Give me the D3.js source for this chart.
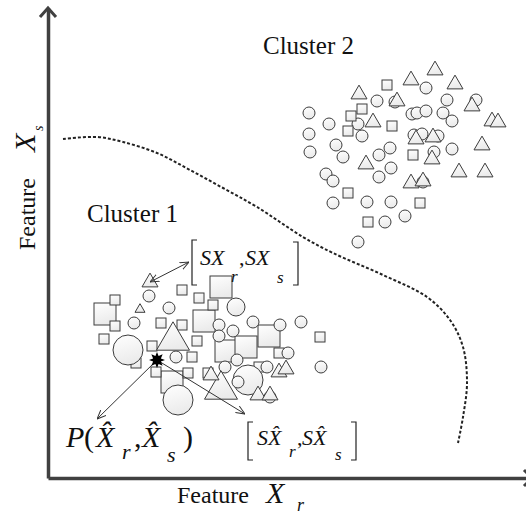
<!DOCTYPE html>
<html>
<head>
<meta charset="utf-8">
<script src="https://cdn.jsdelivr.net/npm/d3@7"></script>
<style>
	body { margin: 0; background: #fff; }
	svg { display: block; }
	text { font-family: "Liberation Serif", "Times New Roman", serif; fill: #111; }
</style>
</head>
<body>
<svg></svg>
<script>
// feature space units: [X_r, X_s, size class]
const cluster2Circles = [
	[378,390,1],[329,377,1],[347,376,1],[399,378,1],[428,378,1],[261,365,1],[364,364,1],[369,365,1],
	[378,367,1],[395,365,1],[404,357,1],[281,354,1],[310,354,1],[261,344,1],[314,342,1],[366,343,1],
	[374,344,1],[390,342,1],[288,333,1],[295,321,1],[262,326,1],[342,330,1],[331,323,1],[386,326,1],
	[404,329,1],[343,310,1],[331,301,1],[278,304,1],[285,297,1],[375,296,1],[285,275,1],[319,276,1],
	[343,276,1],[357,262,1],[337,256,1],[310,236,1]
];
const cluster2Squares = [
	[339,393,1],[314,369,1],[303,362,1],[300,347,1],[344,352,1],[365,323,1],[300,285,1],[372,275,1],[320,256,1]
];
const cluster2Triangles = [
	[387,410,1],[363,400,1],[407,396,1],[311,386,1],[349,379,1],[424,374,1],[444,359,1],[450,358,1],
	[325,358,1],[368,341,1],[385,343,1],[434,335,1],[384,321,1],[318,316,1],[411,308,1],[437,308,1],
	[363,297,1],[375,299,1]
];
const cluster1Circles = [
	[101,182,1],[121,170,1],[86,155,1],[80,128,3],[128,121,1],[130,78,3],[188,171,2],[171,153,1],
	[185,147,1],[205,156,1],[232,153,1],[253,156,1],[171,142,1],[240,125,1],[189,118,1],[177,111,1],
	[273,111,1],[200,98,3],[190,96,1],[222,81,1],[219,111,1]
];
const cluster1Squares = [
	[134,188,1],[151,180,1],[57,164,3],[67,178,1],[67,152,1],[113,155,1],[134,153,1],[56,139,1],
	[104,132,1],[149,137,1],[88,115,1],[144,121,1],[108,106,1],[124,96,3],[140,105,1],[173,191,3],
	[165,173,1],[156,157,3],[221,142,3],[272,141,1],[178,127,3],[198,131,3],[231,125,1],[211,111,1],[160,105,1]
];
const cluster1Triangles = [
	[102,198,1],[92,170,0],[125,142,3],[173,93,3],[231,108,1],[238,111,1],[163,105,1],[210,85,1],[222,85,1]
];
const queryPoint = [109,118];
const boundary = [
	[15,339],[49,341],[75,336],[109,325],[142,308],[175,290],[209,271],[255,241],[285,225],
	[335,203],[379,181],[402,158],[415,131],[419,95],[415,61],[410,35]
];
const arrows = [
	{from: [102,196], to: [141,216], both: true},
	{from: queryPoint, to: [49,59]},
	{from: queryPoint, to: [197,64]}
];
const clusterLabels = [
	{text: "Cluster 1", at: [39,256]},
	{text: "Cluster 2", at: [215,424]}
];

const w = 526, h = 516;
const xScale = d3.scaleLinear().domain([0, 484]).range([48, 532]);
const yScale = d3.scaleLinear().domain([0, 470]).range([478, 8]);

const circleR = d3.scaleOrdinal().domain([1,2,3]).range([6,9,15]);
const squareS = d3.scaleOrdinal().domain([1,3]).range([10,22]);
const triW = d3.scaleOrdinal().domain([0,1,3]).range([10,16,33]);

const svg = d3.select('svg')
	.attr('width', w)
	.attr('height', h)
	.attr('viewBox', [0, 0, w, h]);

svg.append('rect').attr('width', w).attr('height', h).attr('fill', '#fff');

const defs = svg.append('defs');
const grad = defs.append('linearGradient').attr('id', 'mk')
	.attr('x1', 0).attr('y1', 0).attr('x2', 0.3).attr('y2', 1);
grad.append('stop').attr('offset', '0%').attr('stop-color', '#ffffff');
grad.append('stop').attr('offset', '100%').attr('stop-color', '#ebebeb');

defs.append('marker')
	.attr('id', 'arr')
	.attr('viewBox', '0 0 10 10')
	.attr('refX', 10).attr('refY', 5)
	.attr('markerWidth', 9).attr('markerHeight', 9)
	.attr('markerUnits', 'userSpaceOnUse')
	.attr('orient', 'auto-start-reverse')
	.append('path')
	.attr('d', 'M0,0.8L10,5L0,9.2')
	.attr('fill', 'none')
	.attr('stroke', '#333')
	.attr('stroke-width', 1.1);

// axes (no ticks, just the feature lines)
const xAxis = g => g
	.attr('transform', `translate(0,${yScale(0)})`)
	.call(d3.axisBottom(xScale).tickValues([]).tickSizeOuter(0));
const yAxis = g => g
	.attr('transform', `translate(${xScale(0)},0)`)
	.call(d3.axisLeft(yScale).tickValues([]).tickSizeOuter(0));

svg.append('g').attr('class', 'axis').call(xAxis);
svg.append('g').attr('class', 'axis').call(yAxis);
svg.selectAll('.axis path').attr('stroke', '#404040').attr('stroke-width', 3.5);

const x0 = xScale(0), y0 = yScale(0), yTop = yScale(470), xEnd = xScale(484);
svg.append('path')
	.attr('d', `M${x0-8},${yTop+9}L${x0},${yTop}L${x0+8},${yTop+9}`)
	.attr('fill', 'none').attr('stroke', '#404040').attr('stroke-width', 3);
svg.append('path')
	.attr('d', `M${xEnd-8},${y0-8}L${xEnd},${y0}L${xEnd-8},${y0+8}`)
	.attr('fill', 'none').attr('stroke', '#404040').attr('stroke-width', 3);

// decision boundary
svg.append('path')
	.datum(boundary)
	.attr('d', d3.line().x(d => xScale(d[0])).y(d => yScale(d[1])).curve(d3.curveCatmullRom))
	.attr('fill', 'none')
	.attr('stroke', '#222')
	.attr('stroke-width', 2)
	.attr('stroke-dasharray', '3,2');

const bySize = arr => arr.slice().sort((a, b) => b[2] - a[2]);

function drawSquares(data) {
	svg.append('g').selectAll('rect')
		.data(bySize(data))
		.enter()
		.append('rect')
		.attr('x', d => xScale(d[0]) - squareS(d[2]) / 2)
		.attr('y', d => yScale(d[1]) - squareS(d[2]) / 2)
		.attr('width', d => squareS(d[2]))
		.attr('height', d => squareS(d[2]))
		.attr('fill', 'url(#mk)')
		.attr('stroke', '#3c3c3c')
		.attr('stroke-width', 1);
}
function drawCircles(data) {
	svg.append('g').selectAll('circle')
		.data(bySize(data))
		.enter()
		.append('circle')
		.attr('cx', d => xScale(d[0]))
		.attr('cy', d => yScale(d[1]))
		.attr('r', d => circleR(d[2]))
		.attr('fill', 'url(#mk)')
		.attr('stroke', '#3c3c3c')
		.attr('stroke-width', 1);
}
function drawTriangles(data) {
	svg.append('g').selectAll('path')
		.data(bySize(data))
		.enter()
		.append('path')
		.attr('d', d => {
			const cx = xScale(d[0]), cy = yScale(d[1]);
			const tw = triW(d[2]), th = tw * 0.86;
			return `M${cx},${cy - th/2}L${cx + tw/2},${cy + th/2}L${cx - tw/2},${cy + th/2}Z`;
		})
		.attr('fill', 'url(#mk)')
		.attr('stroke', '#3c3c3c')
		.attr('stroke-width', 1);
}

drawCircles(cluster2Circles);
drawSquares(cluster2Squares);
drawTriangles(cluster2Triangles);

drawSquares(cluster1Squares);
drawCircles(cluster1Circles);
drawTriangles(cluster1Triangles);

// arrows
svg.append('g').selectAll('line')
	.data(arrows)
	.enter()
	.append('line')
	.attr('x1', d => xScale(d.from[0]))
	.attr('y1', d => yScale(d.from[1]))
	.attr('x2', d => xScale(d.to[0]))
	.attr('y2', d => yScale(d.to[1]))
	.attr('stroke', '#333')
	.attr('stroke-width', 1)
	.attr('marker-end', 'url(#arr)')
	.attr('marker-start', d => d.both ? 'url(#arr)' : null);

// query point star
const star = d3.lineRadial()
	.angle((d, i) => i * Math.PI / 8)
	.radius((d, i) => i % 2 ? 4.2 : 8)
	.curve(d3.curveLinearClosed);
svg.append('path')
	.attr('d', star(d3.range(16)))
	.attr('transform', `translate(${xScale(queryPoint[0])},${yScale(queryPoint[1])})`)
	.attr('fill', '#000');

// cluster labels
svg.selectAll('text.cl')
	.data(clusterLabels)
	.enter()
	.append('text')
	.attr('class', 'cl')
	.attr('x', d => xScale(d.at[0]))
	.attr('y', d => yScale(d.at[1]))
	.attr('font-size', 25)
	.text(d => d.text);

// math labels built from pieces [dx, dy, text, size, italic]
function mathLabel(at, pieces) {
	const g = svg.append('g')
		.attr('transform', `translate(${xScale(at[0])},${yScale(at[1])})`);
	pieces.forEach(p => {
		g.append('text')
			.attr('x', p[0]).attr('y', p[1])
			.attr('font-size', p[3])
			.attr('font-style', p[4] ? 'italic' : 'normal')
			.text(p[2]);
	});
	return g;
}
function bracket(g, x, top, bottom, dir) {
	g.append('path')
		.attr('d', `M${x + 5*dir},${top}H${x}V${bottom}H${x + 5*dir}`)
		.attr('fill', 'none').attr('stroke', '#222').attr('stroke-width', 1.2);
}

const hatX = 'X\u0302';

// [SX_r, SX_s]
const b1 = mathLabel([144,213], [
	[8,0,'SX',22,true],[39,17,'r',17,true],[47,0,',',22,false],[53,0,'SX',22,true],[85,18,'s',17,true]
]);
bracket(b1, 0, -25, 20, 1);
bracket(b1, 106, -23, 20, -1);

// [SX^_r, SX^_s]
const b2 = mathLabel([200,33], [
	[9,0,'S' + hatX,22,true],[41,12,'r',17,true],[49,0,',',22,false],
	[54,0,'S' + hatX,22,true],[87,15,'s',17,true]
]);
bracket(b2, 0, -23, 15, 1);
bracket(b2, 108, -23, 15, -1);

// P(X^_r, X^_s)
mathLabel([18,31], [
	[0,0,'P',30,true],[18,0,'(',30,false],[30,0,hatX,30,true],
	[56,12,'r',22,true],[68,0,',',30,false],[76,0,hatX,30,true],
	[101,15,'s',22,true],[117,0,')',30,false]
]);

// axis titles
const xt = svg.append('g').attr('transform', `translate(177,503)`);
xt.append('text').attr('font-size', 24).text('Feature');
xt.append('text').attr('x', 89).attr('font-size', 30).attr('font-style', 'italic').text('X');
xt.append('text').attr('x', 120).attr('y', 8).attr('font-size', 18).attr('font-style', 'italic').text('r');

const yt = svg.append('g').attr('transform', `translate(35,250) rotate(-90)`);
yt.append('text').attr('font-size', 24).text('Feature');
yt.append('text').attr('x', 98).attr('font-size', 30).attr('font-style', 'italic').text('X');
yt.append('text').attr('x', 119).attr('y', 8).attr('font-size', 14).attr('font-style', 'italic').text('s');
</script>
</body>
</html>
